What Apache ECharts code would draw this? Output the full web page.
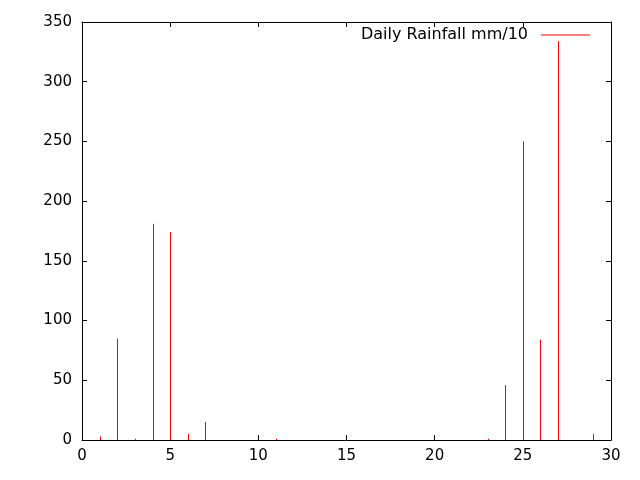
<!DOCTYPE html>
<html>
<head>
<meta charset="utf-8">
<script src="https://cdn.jsdelivr.net/npm/echarts@6/dist/echarts.min.js"></script>
<style>
  html, body { margin: 0; padding: 0; background: #fff; }
  #main { width: 640px; height: 480px; }
</style>
</head>
<body>
<div id="main"></div>
<script>
// day of month and rainfall (mm/10)
const days = [1, 2, 3, 4, 5, 6, 7, 11, 23, 24, 25, 26, 27, 29];
const rainfall = [3, 85, 1, 181, 174, 5, 15, 1, 1, 46, 250, 84, 334, 5];
const xTicks = [0, 5, 10, 15, 20, 25, 30];
const yTicks = [0, 50, 100, 150, 200, 250, 300, 350];

var chart = echarts.init(document.getElementById('main'));

const font = 'DejaVu Sans';
const axisCommon = {
	axisLine: { show: true, onZero: false, lineStyle: { color: '#000', width: 1 } },
	axisTick: { show: true, inside: true, length: 5, lineStyle: { color: '#000' } },
	splitLine: { show: false }
};

option = {
	backgroundColor: '#fff',
	animation: false,
	grid: { left: 82, right: 29, top: 22, bottom: 40 },
	legend: {
		data: [{ name: 'Daily Rainfall mm/10', icon: 'rect' }],
		right: 50,
		top: 27,
		padding: 0,
		align: 'right',
		itemWidth: 49,
		itemHeight: 1,
		textStyle: { fontFamily: font, fontSize: 16, lineHeight: 16, color: '#000', padding: [0, 8, 0, 0] }
	},
	xAxis: [{
		type: 'value',
		min: xTicks[0],
		max: xTicks[xTicks.length - 1],
		interval: 5,
		position: 'bottom',
		...axisCommon,
		axisLabel: { color: '#000', fontFamily: font, fontSize: 15, margin: 9 }
	}, {
		type: 'value',
		min: xTicks[0],
		max: xTicks[xTicks.length - 1],
		interval: 5,
		position: 'top',
		...axisCommon,
		axisLabel: { show: false }
	}],
	yAxis: [{
		type: 'value',
		min: yTicks[0],
		max: yTicks[yTicks.length - 1],
		interval: 50,
		position: 'left',
		...axisCommon,
		axisLabel: { color: '#000', fontFamily: font, fontSize: 15, margin: 10 }
	}, {
		type: 'value',
		min: yTicks[0],
		max: yTicks[yTicks.length - 1],
		interval: 50,
		position: 'right',
		...axisCommon,
		axisLabel: { show: false }
	}],
	series: [{
		name: 'Daily Rainfall mm/10',
		type: 'custom',
		xAxisIndex: 0,
		yAxisIndex: 0,
		itemStyle: { color: '#ff0000' },
		renderItem: function (params, api) {
			var top = api.coord([api.value(0), api.value(1)]);
			var base = api.coord([api.value(0), 0]);
			var x = Math.round(top[0]) + 0.5;
			return {
				type: 'line',
				shape: { x1: x, y1: base[1], x2: x, y2: top[1] },
				style: { stroke: '#ff0000', lineWidth: 1 }
			};
		},
		encode: { x: 0, y: 1 },
		data: days.map((d, i) => [d, rainfall[i]])
	}]
};

chart.setOption(option);
</script>
</body>
</html>
